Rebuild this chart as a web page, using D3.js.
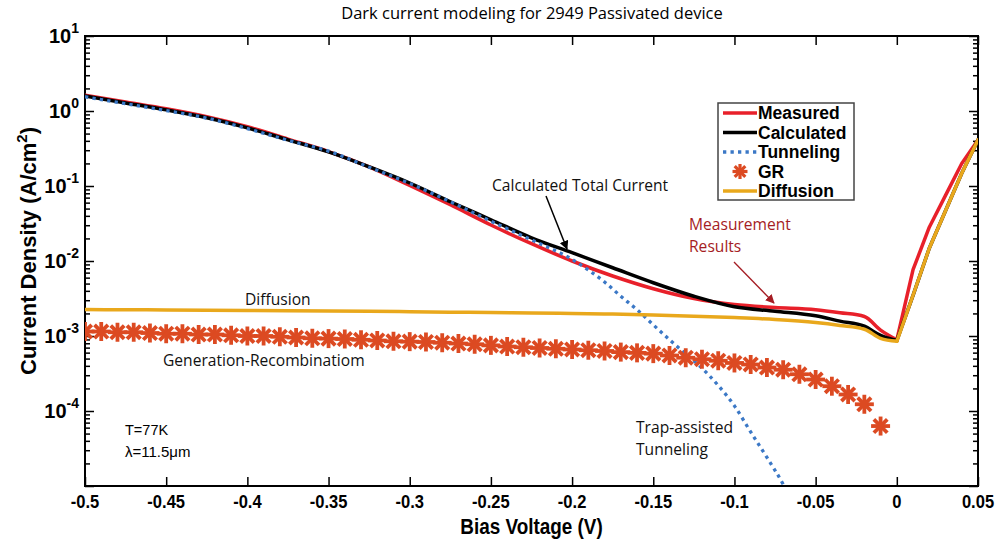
<!DOCTYPE html>
<html>
<head>
<meta charset="utf-8">
<script src="https://cdn.jsdelivr.net/npm/d3@7"></script>
<style>
  body { margin: 0; background: #fff; }
  .note { font-family: "Open Sans", sans-serif; font-size: 15.6px; }
  .tick-x { font-family: "Liberation Sans", Arial, sans-serif; font-weight: bold; font-size: 19px; }
  .tick-y { font-family: "Liberation Sans", Arial, sans-serif; font-weight: bold; font-size: 20px; }
  .legend text { font-family: "Liberation Sans", Arial, sans-serif; font-weight: bold; font-size: 17.5px; }
</style>
</head>
<body>
<div id="chart"></div>
<script>
// ---- data ----
var voltsModel = [-0.5, -0.475, -0.45, -0.425, -0.4, -0.375, -0.35, -0.325, -0.3, -0.275, -0.25, -0.225,
  -0.2, -0.175, -0.15, -0.125, -0.1, -0.075, -0.05, -0.035, -0.02, -0.01, 0, 0.01, 0.02, 0.03, 0.04, 0.05];

var measured = [1.62, 1.318, 1.072, 0.841, 0.617, 0.422, 0.288, 0.180, 0.102, 0.0562, 0.0302, 0.0170,
  0.0100, 0.00631, 0.00427, 0.00316, 0.00263, 0.00240, 0.00224, 0.00204, 0.00182, 0.00120, 0.00089,
  0.00766, 0.0282, 0.075, 0.200, 0.412];

var calculated = [1.585, 1.282, 1.035, 0.813, 0.596, 0.412, 0.285, 0.180, 0.1096, 0.0617, 0.0355, 0.0204,
  0.0129, 0.00813, 0.00513, 0.00339, 0.00245, 0.00214, 0.00186, 0.00158, 0.00135, 0.00102, 0.00087,
  0.00349, 0.0148, 0.0468, 0.148, 0.412];

var diffusion = [2.25e-3, 2.24e-3, 2.23e-3, 2.21e-3, 2.19e-3, 2.17e-3, 2.15e-3, 2.13e-3, 2.11e-3, 2.08e-3,
  2.05e-3, 2.03e-3, 2.00e-3, 1.96e-3, 1.91e-3, 1.84e-3, 1.76e-3, 1.66e-3, 1.51e-3, 1.38e-3, 1.23e-3,
  0.93e-3, 0.85e-3, 3.49e-3, 0.0148, 0.0468, 0.148, 0.412];

var voltsTunnel = [-0.5, -0.475, -0.45, -0.425, -0.4, -0.375, -0.35, -0.325, -0.3, -0.275, -0.25, -0.225,
  -0.2, -0.19, -0.18, -0.17, -0.16, -0.15, -0.14, -0.13, -0.12, -0.11, -0.1, -0.09, -0.08, -0.07, -0.065];
var tunneling = [1.549, 1.25, 1.012, 0.804, 0.582, 0.407, 0.292, 0.178, 0.108, 0.0617, 0.0339, 0.0191,
  0.0105, 0.00759, 0.00525, 0.00339, 0.00224, 0.00141, 0.000891, 0.000575, 0.000372, 0.000219, 0.000117,
  5.25e-5, 2.40e-5, 1.05e-5, 6.3e-6];

var voltsGR = [-0.5, -0.49, -0.48, -0.47, -0.46, -0.45, -0.44, -0.43, -0.42, -0.41, -0.4, -0.39, -0.38, -0.37,
  -0.36, -0.35, -0.34, -0.33, -0.32, -0.31, -0.3, -0.29, -0.28, -0.27, -0.26, -0.25, -0.24, -0.23, -0.22,
  -0.21, -0.2, -0.19, -0.18, -0.17, -0.16, -0.15, -0.14, -0.13, -0.12, -0.11, -0.1, -0.09, -0.08, -0.07,
  -0.06, -0.05, -0.04, -0.03, -0.02, -0.01];
var gr = [1.148e-3, 1.148e-3, 1.122e-3, 1.122e-3, 1.096e-3, 1.072e-3, 1.072e-3, 1.047e-3, 1.047e-3, 1.023e-3,
  1.000e-3, 1.000e-3, 0.977e-3, 0.955e-3, 0.933e-3, 0.923e-3, 0.912e-3, 0.891e-3, 0.871e-3, 0.851e-3,
  0.841e-3, 0.832e-3, 0.813e-3, 0.794e-3, 0.776e-3, 0.750e-3, 0.724e-3, 0.708e-3, 0.692e-3, 0.676e-3,
  0.661e-3, 0.646e-3, 0.631e-3, 0.610e-3, 0.596e-3, 0.582e-3, 0.550e-3, 0.513e-3, 0.490e-3, 0.468e-3,
  0.437e-3, 0.417e-3, 0.380e-3, 0.355e-3, 0.309e-3, 0.263e-3, 0.214e-3, 0.166e-3, 0.123e-3, 0.063e-3];

var xTicks = [-0.5, -0.45, -0.4, -0.35, -0.3, -0.25, -0.2, -0.15, -0.1, -0.05, 0, 0.05];
var yDecades = [-4, -3, -2, -1, 0, 1];

var legendNames = ["Measured", "Calculated", "Tunneling", "GR", "Diffusion"];

// colours
var cRed = "#e8202a", cBlack = "#000", cBlue = "#3b78c6", cGR = "#dc4a22", cYellow = "#e9a81c";

// ---- set up chart ----
var svgWidth = 1000;
var svgHeight = 540;
var margin = { top: 36, right: 22, bottom: 54, left: 85 };
var width = svgWidth - margin.left - margin.right;
var height = svgHeight - margin.top - margin.bottom;

var svg = d3.select("#chart")
  .append("svg")
  .attr("width", svgWidth)
  .attr("height", svgHeight)
  .style("display", "block");

var defs = svg.append("defs");
defs.append("clipPath").attr("id", "plotclip")
  .append("rect").attr("width", width).attr("height", height);

function arrowHead(id, color) {
  defs.append("marker")
    .attr("id", id)
    .attr("viewBox", "0 0 10 10")
    .attr("refX", 9).attr("refY", 5)
    .attr("markerWidth", 9).attr("markerHeight", 9)
    .attr("markerUnits", "userSpaceOnUse")
    .attr("orient", "auto")
    .append("path")
    .attr("d", "M0,0 L10,5 L0,10 z")
    .attr("fill", color);
}
arrowHead("arrowBlack", "#000");
arrowHead("arrowRed", "#a51d24");

var chartGroup = svg.append("g")
  .attr("transform", `translate(${margin.left}, ${margin.top})`);

// scales
var xScale = d3.scaleLinear().domain([-0.5, 0.05]).range([0, width]);
var yScale = d3.scaleLog().domain([1e-5, 10]).range([height, 0]);

// ---- axes (box with inward ticks) ----
var minorTicks = yScale.ticks().filter(function(v) {
  return Math.abs(Math.log10(v) - Math.round(Math.log10(v))) > 1e-6;
});
var majorTicks = yDecades.map(function(e) { return Math.pow(10, e); }).concat([1e-5]);

function styleAxis(g) {
  g.select(".domain").remove();
  g.selectAll("line").attr("stroke", "#000").attr("stroke-width", 1.5);
  g.selectAll("text").remove();
}

chartGroup.append("g").call(d3.axisLeft(yScale).tickValues(minorTicks).tickSize(-5)).call(styleAxis);
chartGroup.append("g").call(d3.axisLeft(yScale).tickValues(majorTicks).tickSize(-9)).call(styleAxis);
chartGroup.append("g").attr("transform", `translate(${width},0)`)
  .call(d3.axisRight(yScale).tickValues(minorTicks).tickSize(-5)).call(styleAxis);
chartGroup.append("g").attr("transform", `translate(${width},0)`)
  .call(d3.axisRight(yScale).tickValues(majorTicks).tickSize(-9)).call(styleAxis);
chartGroup.append("g").attr("transform", `translate(0,${height})`)
  .call(d3.axisBottom(xScale).tickValues(xTicks).tickSize(-9)).call(styleAxis);
chartGroup.append("g")
  .call(d3.axisTop(xScale).tickValues(xTicks).tickSize(-9)).call(styleAxis);

// box
chartGroup.append("rect")
  .attr("width", width).attr("height", height)
  .attr("fill", "none").attr("stroke", "#000").attr("stroke-width", 2);

// x tick labels (condensed look)
chartGroup.selectAll(".tick-x")
  .data(xTicks)
  .enter().append("text")
  .attr("class", "tick-x")
  .attr("transform", d => `translate(${xScale(d)},${height + 22}) scale(0.87,1)`)
  .attr("text-anchor", "middle")
  .text(d => String(+d.toFixed(2)));

// y tick labels 10^n
var yLab = chartGroup.selectAll(".tick-y")
  .data(yDecades)
  .enter().append("text")
  .attr("class", "tick-y")
  .attr("x", -6)
  .attr("y", d => yScale(Math.pow(10, d)) + 7)
  .attr("text-anchor", "end");
yLab.append("tspan").text("10");
yLab.append("tspan").attr("dy", -10).attr("font-size", 14).text(d => String(d));

// ---- lines ----
var plot = chartGroup.append("g").attr("clip-path", "url(#plotclip)");

// smooth on the reverse-bias side, straight segments on the forward side
function drawSeries(xs, ys, color, sw, dash) {
  var pts = ys.map(function(v, i) { return [xs[i], v]; });
  var neg = pts.filter(p => p[0] <= 0);
  var pos = pts.filter(p => p[0] >= 0);
  var smooth = d3.line().curve(d3.curveMonotoneX).x(p => xScale(p[0])).y(p => yScale(p[1]));
  var straight = d3.line().x(p => xScale(p[0])).y(p => yScale(p[1]));
  [[neg, smooth], [pos, straight]].forEach(function(part) {
    if (part[0].length < 2) return;
    plot.append("path").datum(part[0])
      .attr("d", part[1])
      .attr("fill", "none").attr("stroke", color).attr("stroke-width", sw)
      .attr("stroke-linejoin", "round")
      .attr("stroke-linecap", dash ? "butt" : "round")
      .attr("stroke-dasharray", dash || null);
  });
}

drawSeries(voltsModel, measured, cRed, 3.5);
drawSeries(voltsModel, calculated, cBlack, 3.5);
drawSeries(voltsTunnel, tunneling, cBlue, 3.3, "3.3,4.2");

// GR asterisk markers
function asterisk(sel, r, sw) {
  [0, 45, 90, 135].forEach(function(a) {
    sel.append("line")
      .attr("x1", -r).attr("x2", r).attr("y1", 0).attr("y2", 0)
      .attr("transform", `rotate(${a})`)
      .attr("stroke", cGR).attr("stroke-width", sw);
  });
}
plot.selectAll(".gr")
  .data(gr)
  .enter().append("g")
  .attr("class", "gr")
  .attr("transform", (d, i) => `translate(${xScale(voltsGR[i])},${yScale(d)})`)
  .each(function() { asterisk(d3.select(this), 9.5, 3.8); });

drawSeries(voltsModel, diffusion, cYellow, 3.5);

// ---- annotations ----
function note(x, y, txt, color) {
  chartGroup.append("text").attr("class", "note")
    .attr("x", x - margin.left).attr("y", y - margin.top)
    .attr("fill", color || "#111").text(txt);
}
note(492, 191, "Calculated Total Current");
note(689, 230, "Measurement", "#a51d24");
note(689, 252, "Results", "#a51d24");
note(245, 305, "Diffusion");
note(163, 366, "Generation-Recombinatiom");
note(636, 433, "Trap-assisted");
note(636, 455, "Tunneling");

chartGroup.append("text").attr("x", 125 - margin.left).attr("y", 435 - margin.top)
  .style("font-family", "'Liberation Sans', Arial, sans-serif").style("font-size", "14.5px")
  .text("T=77K");
chartGroup.append("text").attr("x", 125 - margin.left).attr("y", 457 - margin.top)
  .style("font-family", "'Liberation Sans', Arial, sans-serif").style("font-size", "15px")
  .text("\u03bb=11.5\u03bcm");

chartGroup.append("line")
  .attr("x1", 546 - margin.left).attr("y1", 196 - margin.top)
  .attr("x2", 567 - margin.left).attr("y2", 249 - margin.top)
  .attr("stroke", "#000").attr("stroke-width", 1.5)
  .attr("marker-end", "url(#arrowBlack)");
chartGroup.append("line")
  .attr("x1", 734 - margin.left).attr("y1", 262 - margin.top)
  .attr("x2", 774 - margin.left).attr("y2", 303 - margin.top)
  .attr("stroke", "#a51d24").attr("stroke-width", 1.3)
  .attr("marker-end", "url(#arrowRed)");

// ---- legend ----
var legend = svg.append("g").attr("class", "legend");
legend.append("rect")
  .attr("x", 718).attr("y", 103).attr("width", 136).attr("height", 97)
  .attr("fill", "#fff").attr("stroke", "#444").attr("stroke-width", 1.5);

var legendStyles = [
  { color: cRed, dash: null },
  { color: cBlack, dash: null },
  { color: cBlue, dash: "3.3,4.2" },
  { color: cGR, marker: true },
  { color: cYellow, dash: null }
];
legendNames.forEach(function(name, i) {
  var y = 113 + i * 19.5;
  var s = legendStyles[i];
  if (s.marker) {
    var g = legend.append("g").attr("transform", `translate(740,${y})`);
    asterisk(g, 7.5, 3.2);
  } else {
    legend.append("line")
      .attr("x1", 723).attr("x2", 757).attr("y1", y).attr("y2", y)
      .attr("stroke", s.color).attr("stroke-width", 3.5)
      .attr("stroke-dasharray", s.dash);
  }
  legend.append("text").attr("x", 758).attr("y", y + 6).text(name);
});

// ---- titles ----
svg.append("text")
  .attr("x", 532).attr("y", 19)
  .attr("text-anchor", "middle")
  .style("font-family", "'Open Sans', sans-serif").style("font-size", "16.5px")
  .text("Dark current modeling for 2949 Passivated device");

svg.append("text")
  .attr("transform", `translate(${margin.left + width / 2}, 534) scale(0.86,1)`)
  .attr("text-anchor", "middle")
  .style("font-family", "'Liberation Sans', Arial, sans-serif")
  .style("font-weight", "bold").style("font-size", "22px")
  .text("Bias Voltage (V)");

var yTitle = svg.append("text")
  .attr("transform", `translate(36, 251) rotate(-90)`)
  .attr("text-anchor", "middle")
  .style("font-family", "'Liberation Sans', Arial, sans-serif")
  .style("font-weight", "bold").style("font-size", "22px");
yTitle.append("tspan").text("Current Density (A/cm");
yTitle.append("tspan").attr("dy", -9).attr("font-size", 15).text("2");
yTitle.append("tspan").attr("dy", 9).text(")");
</script>
</body>
</html>
